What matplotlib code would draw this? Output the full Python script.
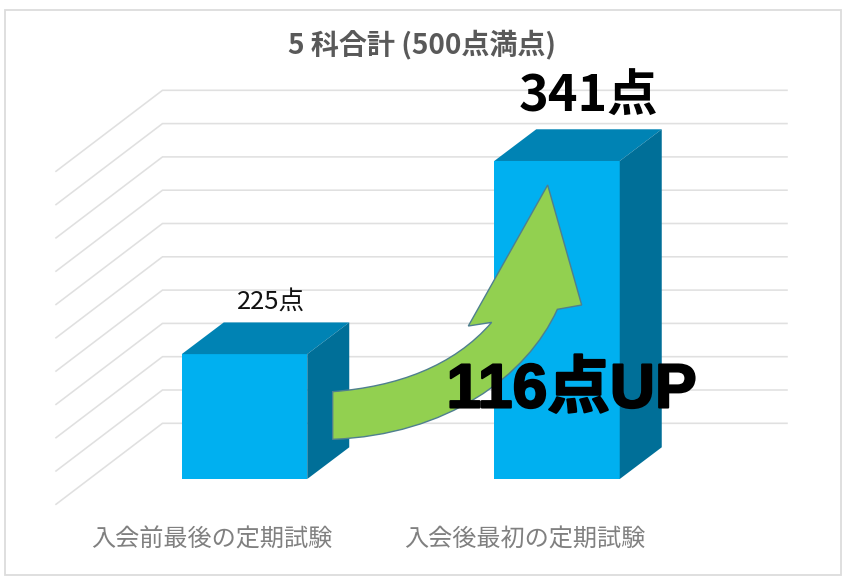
import numpy as np
import matplotlib
matplotlib.use("Agg")
import matplotlib.pyplot as plt
import matplotlib.patheffects as pe
from matplotlib.patches import Polygon, PathPatch, Rectangle
from matplotlib.path import Path

categories = ["入会前最後の定期試験", "入会後最初の定期試験"]
scores = [225, 341]
score_labels = ["225点", "341点"]
grid_values = [150, 170, 190, 210, 230, 250, 270, 290, 310, 330, 350]
title = "5 科合計 (500点満点)"
callout = "116点UP"

JP = ["Noto Sans CJK JP", "DejaVu Sans"]
MIX = ["Liberation Sans", "Noto Sans CJK JP"]
W, H = 846, 585
PX_Y = 1.665      # pixels per point
PX_X = 312.5      # pixels per category
Y0_PX = 423.3     # pixel row of value 150 on the back wall
X0_PX = 244.5     # pixel column of the first bar's centre

fig = plt.figure(figsize=(W / 100, H / 100), dpi=100, facecolor="white")
ax = fig.add_axes([0, 0, 1, 1])
ax.set_xlim(-X0_PX / PX_X, (W - X0_PX) / PX_X)
ax.set_ylim(150 - (H - Y0_PX) / PX_Y, 150 + Y0_PX / PX_Y)
ax.axis("off")

# overlay in pixel coordinates for frame and annotation shapes
ov = fig.add_axes([0, 0, 1, 1], facecolor="none")
ov.set_xlim(0, W)
ov.set_ylim(H, 0)
ov.axis("off")
ov.add_patch(Rectangle((5, 9.5), 836, 565.5, fill=False, ec="#DCDCDC", lw=1.3))

GRID = "#E0E0E0"
wall_left = (162.5 - X0_PX) / PX_X
wall_right = (787 - X0_PX) / PX_X
floor_dx = 106.5 / PX_X
floor_dy = 81 / PX_Y
for g in grid_values:
    ax.plot([wall_left - floor_dx, wall_left, wall_right],
            [g - floor_dy, g, g], color=GRID, lw=1.15, zorder=1,
            solid_joinstyle="miter")

# bars
bar_w = 125.5 / PX_X
front_shift = 55.7 / PX_Y       # front face sits in front of the back wall
dep_x = 42 / PX_X
dep_y = 31.7 / PX_Y
xs = np.arange(len(scores))
bottom = grid_values[0] - front_shift
tops = [s - front_shift for s in scores]
ax.bar(xs, [t - bottom for t in tops], width=bar_w, bottom=bottom,
       color="#00B0F0", zorder=3)
for x, t in zip(xs, tops):
    l, r = x - bar_w / 2, x + bar_w / 2
    ax.add_patch(Polygon([(l, t), (r, t), (r + dep_x, t + dep_y), (l + dep_x, t + dep_y)],
                         closed=True, fc="#0083B4", ec="none", zorder=3))
    ax.add_patch(Polygon([(r, bottom), (r + dep_x, bottom + dep_y),
                          (r + dep_x, t + dep_y), (r, t)],
                         closed=True, fc="#006F98", ec="none", zorder=3))

# green arrow
def P(X, Y):
    return (320 + X / 3, 170 + Y / 3)

verts = [P(38, 808), P(38, 665),
         P(230, 650), P(400, 590), P(515, 457),
         P(445, 468), P(683, 45), P(785, 405), P(712, 418),
         P(620, 620), P(380, 795), P(38, 808), P(38, 808)]
codes = [Path.MOVETO, Path.LINETO,
         Path.CURVE4, Path.CURVE4, Path.CURVE4,
         Path.LINETO, Path.LINETO, Path.LINETO, Path.LINETO,
         Path.CURVE4, Path.CURVE4, Path.CURVE4, Path.CLOSEPOLY]
ov.add_patch(PathPatch(Path(verts, codes), fc="#92D050", ec="#4F7F8F", lw=1.0, zorder=5))

# text
ov.text(422, 44, title, family=JP, fontsize=20.2, fontweight="bold",
        color="#595959", ha="center", va="center", zorder=8)
ov.text(271, 301.5, score_labels[0], family=JP, fontsize=18.4, color="#111111",
        ha="center", va="center", zorder=8)
ov.text(588, 97, score_labels[1], family=JP, fontsize=36.3, fontweight="bold",
        color="black", ha="center", va="center", zorder=8)
t = ov.text(571.5, 391, callout, family=MIX, fontsize=45, fontweight="bold",
            color="black", ha="center", va="center", zorder=8)
t.set_path_effects([pe.withStroke(linewidth=1.5, foreground="black")])
label_shift = 32.5
for x, c in zip(xs, categories):
    ov.text(X0_PX + x * PX_X - label_shift, 540, c, family=JP, fontsize=17.4,
            color="#808080", ha="center", va="center", zorder=8)

fig.savefig("out.png", dpi=100, facecolor="white")
